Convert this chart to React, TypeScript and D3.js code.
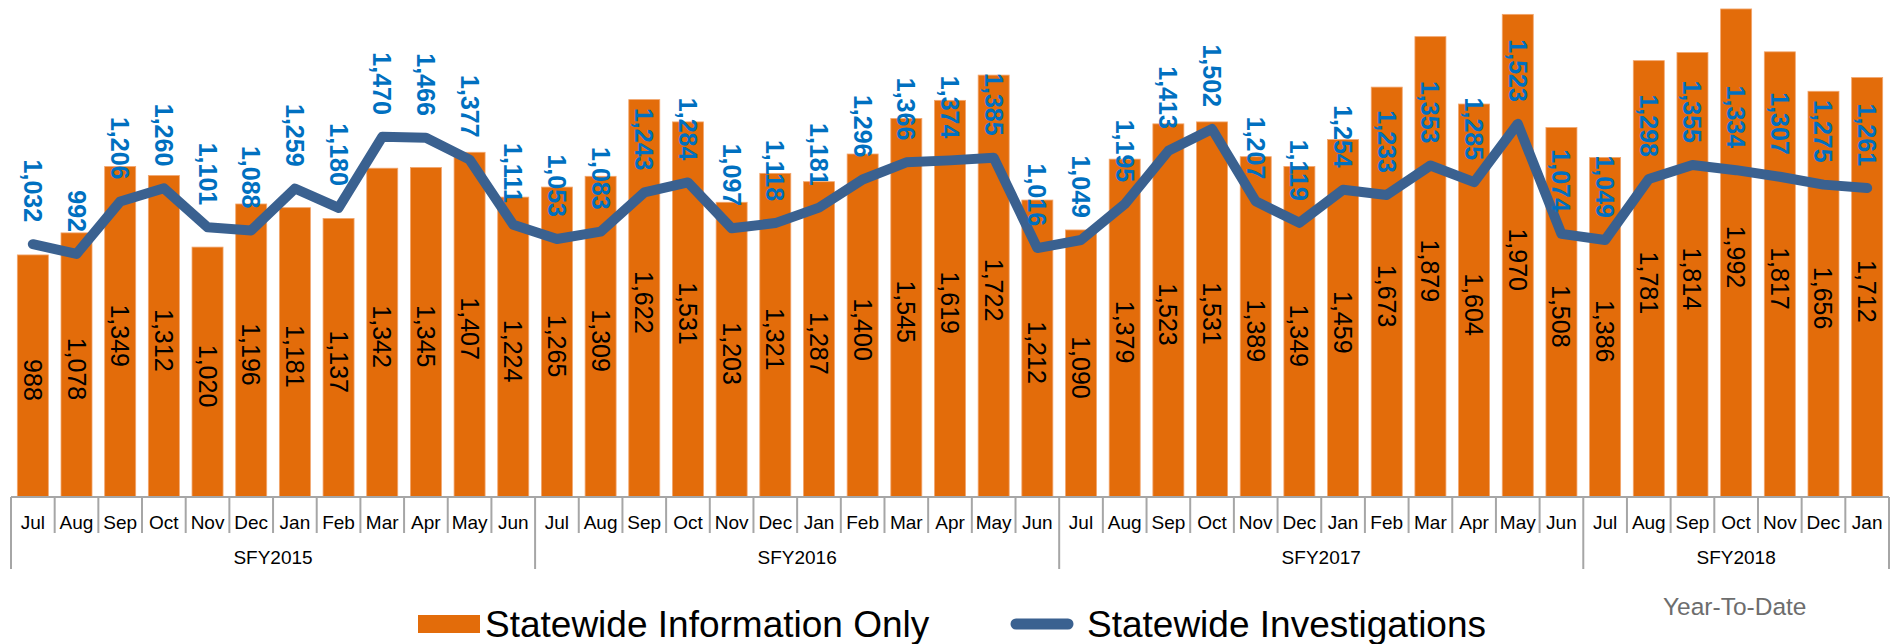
import React from "react";
import * as d3 from "d3";

// months Jul 2014 .. Jan 2018
const months = [
  "Jul", "Aug", "Sep", "Oct", "Nov", "Dec", "Jan", "Feb", "Mar", "Apr", "May", "Jun",
  "Jul", "Aug", "Sep", "Oct", "Nov", "Dec", "Jan", "Feb", "Mar", "Apr", "May", "Jun",
  "Jul", "Aug", "Sep", "Oct", "Nov", "Dec", "Jan", "Feb", "Mar", "Apr", "May", "Jun",
  "Jul", "Aug", "Sep", "Oct", "Nov", "Dec", "Jan",
];

const fiscalYears = [
  { label: "SFY2015", start: 0, count: 12 },
  { label: "SFY2016", start: 12, count: 12 },
  { label: "SFY2017", start: 24, count: 12 },
  { label: "SFY2018", start: 36, count: 7 },
];

const informationOnly = [
  988, 1078, 1349, 1312, 1020, 1196, 1181, 1137, 1342, 1345, 1407, 1224,
  1265, 1309, 1622, 1531, 1203, 1321, 1287, 1400, 1545, 1619, 1722, 1212,
  1090, 1379, 1523, 1531, 1389, 1349, 1459, 1673, 1879, 1604, 1970, 1508,
  1386, 1781, 1814, 1992, 1817, 1656, 1712,
];

const investigations = [
  1032, 992, 1206, 1260, 1101, 1088, 1259, 1180, 1470, 1466, 1377, 1111,
  1053, 1083, 1243, 1284, 1097, 1118, 1181, 1296, 1366, 1374, 1385, 1016,
  1049, 1195, 1413, 1502, 1207, 1119, 1254, 1233, 1353, 1285, 1523, 1074,
  1049, 1298, 1355, 1334, 1307, 1275, 1261,
];

const W = 1900;
const H = 644;
const FONT = "'Liberation Sans', Arial, sans-serif";
const ORANGE = "#E36C0A";
const NAVY = "#3A6190";
const BLUE = "#0070C0";

export default function App() {
  const left = 11;
  const right = 1889;
  const base = 497;

  const idx = months.map((_, i) => i);
  const x = d3.scaleBand<number>().domain(idx).range([left, right]).paddingInner(0.29).paddingOuter(0.145);
  const y = d3.scaleLinear().domain([0, 2000]).range([base, 7]);
  const step = x.step();
  const fmt = d3.format(",");
  const cx = (i: number) => (x(i) as number) + x.bandwidth() / 2;

  const line = d3
    .line<number>()
    .x((_, i) => cx(i))
    .y((d) => y(d));

  const groupEdges = new Set<number>();
  fiscalYears.forEach((g) => {
    groupEdges.add(g.start);
    groupEdges.add(g.start + g.count);
  });

  return (
    <svg width={W} height={H} style={{ position: "absolute", left: 0, top: 0, background: "#fff" }} fontFamily={FONT}>
      {/* bars */}
      {informationOnly.map((v, i) => (
        <rect
          key={"b" + i}
          x={x(i)}
          y={y(v)}
          width={x.bandwidth()}
          height={base - y(v)}
          fill={ORANGE}
          stroke="#F2A66E"
          strokeWidth={0.8}
        />
      ))}
      {informationOnly.map((v, i) => (
        <text
          key={"bl" + i}
          transform={`translate(${cx(i)},${(y(v) + base) / 2 + 4}) rotate(90)`}
          textAnchor="middle"
          dominantBaseline="central"
          fontSize={25}
          fill="#000"
        >
          {fmt(v)}
        </text>
      ))}

      {/* axis */}
      <line x1={left} x2={right} y1={base} y2={base} stroke="#A6A6A6" strokeWidth={2} />
      {d3.range(months.length + 1).map((i) => {
        const xx = left + i * step;
        return (
          <line
            key={"t" + i}
            x1={xx}
            x2={xx}
            y1={base}
            y2={groupEdges.has(i) ? 569 : 533}
            stroke="#A6A6A6"
            strokeWidth={2}
          />
        );
      })}
      {months.map((m, i) => (
        <text key={"m" + i} x={cx(i)} y={529} textAnchor="middle" fontSize={19} fill="#000">
          {m}
        </text>
      ))}
      {fiscalYears.map((g) => (
        <text
          key={g.label}
          x={left + (g.start + g.count / 2) * step}
          y={564}
          textAnchor="middle"
          fontSize={19}
          fill="#000"
        >
          {g.label}
        </text>
      ))}

      {/* line */}
      <path
        d={line(investigations) || ""}
        fill="none"
        stroke={NAVY}
        strokeWidth={10}
        strokeLinejoin="round"
        strokeLinecap="round"
      />
      {investigations.map((v, i) => (
        <text
          key={"ll" + i}
          transform={`translate(${cx(i)},${y(v) - 22}) rotate(90)`}
          textAnchor="end"
          dominantBaseline="central"
          fontSize={25}
          fontWeight="bold"
          fill={BLUE}
        >
          {fmt(v)}
        </text>
      ))}

      {/* legend */}
      <rect x={418} y={615} width={62} height={18} fill={ORANGE} />
      <text x={485} y={637} fontSize={37} fill="#000">
        Statewide Information Only
      </text>
      <line x1={1016} x2={1068} y1={624} y2={624} stroke={NAVY} strokeWidth={11} strokeLinecap="round" />
      <text x={1087} y={637} fontSize={37} fill="#000">
        Statewide Investigations
      </text>
      <text x={1663} y={615} fontSize={24.5} fill="#6D6D6D">
        Year-To-Date
      </text>
    </svg>
  );
}
